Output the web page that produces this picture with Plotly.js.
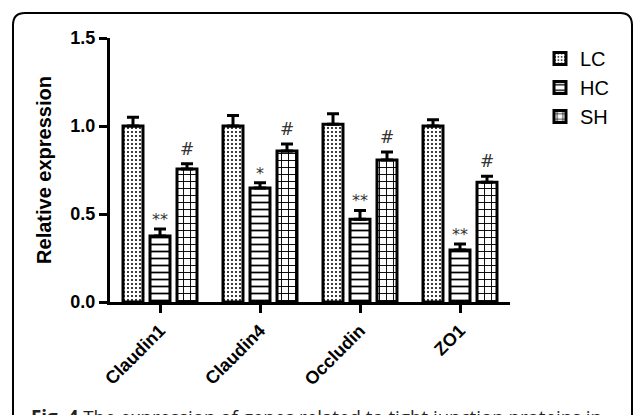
<!DOCTYPE html>
<html>
<head>
<meta charset="utf-8">
<script src="https://cdn.plot.ly/plotly-3.0.1.min.js"></script>
<style>html,body{margin:0;padding:0;background:#fff;}#chart{width:634px;height:415px;}</style>
</head>
<body>
<div id="chart"></div>
<script>
var categories = ['Claudin1', 'Claudin4', 'Occludin', 'ZO1'];
var seriesNames = ['LC', 'HC', 'SH'];
var lcValues = [1.00, 1.00, 1.01, 1.00];
var lcErrors = [0.05, 0.06, 0.06, 0.035];
var hcValues = [0.375, 0.648, 0.47, 0.295];
var hcErrors = [0.04, 0.03, 0.05, 0.035];
var shValues = [0.756, 0.858, 0.807, 0.68];
var shErrors = [0.03, 0.04, 0.045, 0.035];
var hcMarks = ['**', '*', '**', '**'];
var shMarks = ['#', '#', '#', '#'];
var yTicks = [0, 0.5, 1.0, 1.5];
var yTickText = ['0.0', '0.5', '1.0', '1.5'];

function barTrace(name, vals, errs, shape, size, solidity) {
  return {
    type: 'bar', name: name, x: categories, y: vals,
    marker: {
      color: 'white',
      line: {color: 'black', width: 3},
      pattern: {shape: shape, fgcolor: 'black', bgcolor: 'white', size: size, solidity: solidity, fillmode: 'replace'}
    },
    error_y: {type: 'data', symmetric: false, array: errs, arrayminus: errs.map(function(){return 0;}),
              color: 'black', thickness: 3, width: 6}
  };
}

var data = [
  barTrace(seriesNames[0], lcValues, lcErrors, '.', 4, 0.2),
  barTrace(seriesNames[1], hcValues, hcErrors, '-', 7, 0.25),
  barTrace(seriesNames[2], shValues, shErrors, '+', 7, 0.25)
];

// px -> paper helpers (plot area: x 110..510, y 38..302)
function px(v){ return (v - 110) / 400; }
function py(v){ return (302 - v) / 264; }

var annotations = [];
categories.forEach(function(c, i){
  annotations.push({x: c, y: hcValues[i] + hcErrors[i], xref: 'x', yref: 'y', text: hcMarks[i],
    showarrow: false, yanchor: 'bottom', yshift: -2, font: {family: 'DejaVu Sans', size: 16, color: '#333'}});
  annotations.push({x: c, y: shValues[i] + shErrors[i], xref: 'x', yref: 'y', text: shMarks[i],
    showarrow: false, yanchor: 'bottom', xshift: 27, yshift: 3, font: {family: 'DejaVu Sans', size: 17, color: '#333'}});
});
annotations.push({
  xref: 'paper', yref: 'paper', x: px(29), y: py(402), xanchor: 'left', yanchor: 'top',
  text: '<b>Fig. 4</b> The expression of genes related to tight junction proteins in',
  showarrow: false, font: {family: 'Open Sans', size: 18.7, color: '#222'}
});

var L = px(13), R = px(632), T = py(13), B = py(430);
var rx = 12/400, ry = 12/264;
var framePath = 'M ' + L + ',' + B + ' L ' + L + ',' + (T - ry) +
  ' Q ' + L + ',' + T + ' ' + (L + rx) + ',' + T +
  ' L ' + (R - rx) + ',' + T +
  ' Q ' + R + ',' + T + ' ' + R + ',' + (T - ry) +
  ' L ' + R + ',' + B;

var layout = {
  width: 634, height: 415,
  margin: {l: 110, r: 124, t: 38, b: 113},
  paper_bgcolor: 'white', plot_bgcolor: 'white',
  barmode: 'group', bargap: 0.19, bargroupgap: 0.26,
  font: {family: 'Liberation Sans, Arial', color: 'black'},
  xaxis: {
    range: [-0.5, 3.5], showline: true, linecolor: 'black', linewidth: 3,
    ticks: 'outside', ticklen: 8, tickwidth: 3, tickcolor: 'black',
    tickangle: -45, tickfont: {family: 'Liberation Sans, Arial', size: 18, weight: 'bold'},
    showgrid: false, zeroline: false, fixedrange: true
  },
  yaxis: {
    range: [0, 1.5], showline: true, linecolor: 'black', linewidth: 3,
    ticks: 'outside', ticklen: 8, tickwidth: 3, tickcolor: 'black',
    tickvals: yTicks, ticktext: yTickText,
    tickfont: {family: 'Liberation Sans, Arial', size: 18, weight: 'bold'},
    title: {text: '<b>Relative expression</b>', font: {family: 'Liberation Sans, Arial', size: 20}, standoff: 14},
    showgrid: false, zeroline: false, fixedrange: true
  },
  legend: {
    x: px(540), y: py(39), xanchor: 'left', yanchor: 'top',
    font: {family: 'Liberation Sans, Arial', size: 20},
    bgcolor: 'rgba(0,0,0,0)', itemwidth: 30
  },
  annotations: annotations,
  shapes: [{type: 'path', xref: 'paper', yref: 'paper', path: framePath,
            line: {color: 'black', width: 2}}]
};

Plotly.newPlot('chart', data, layout, {displayModeBar: false, staticPlot: true});
</script>
</body>
</html>
